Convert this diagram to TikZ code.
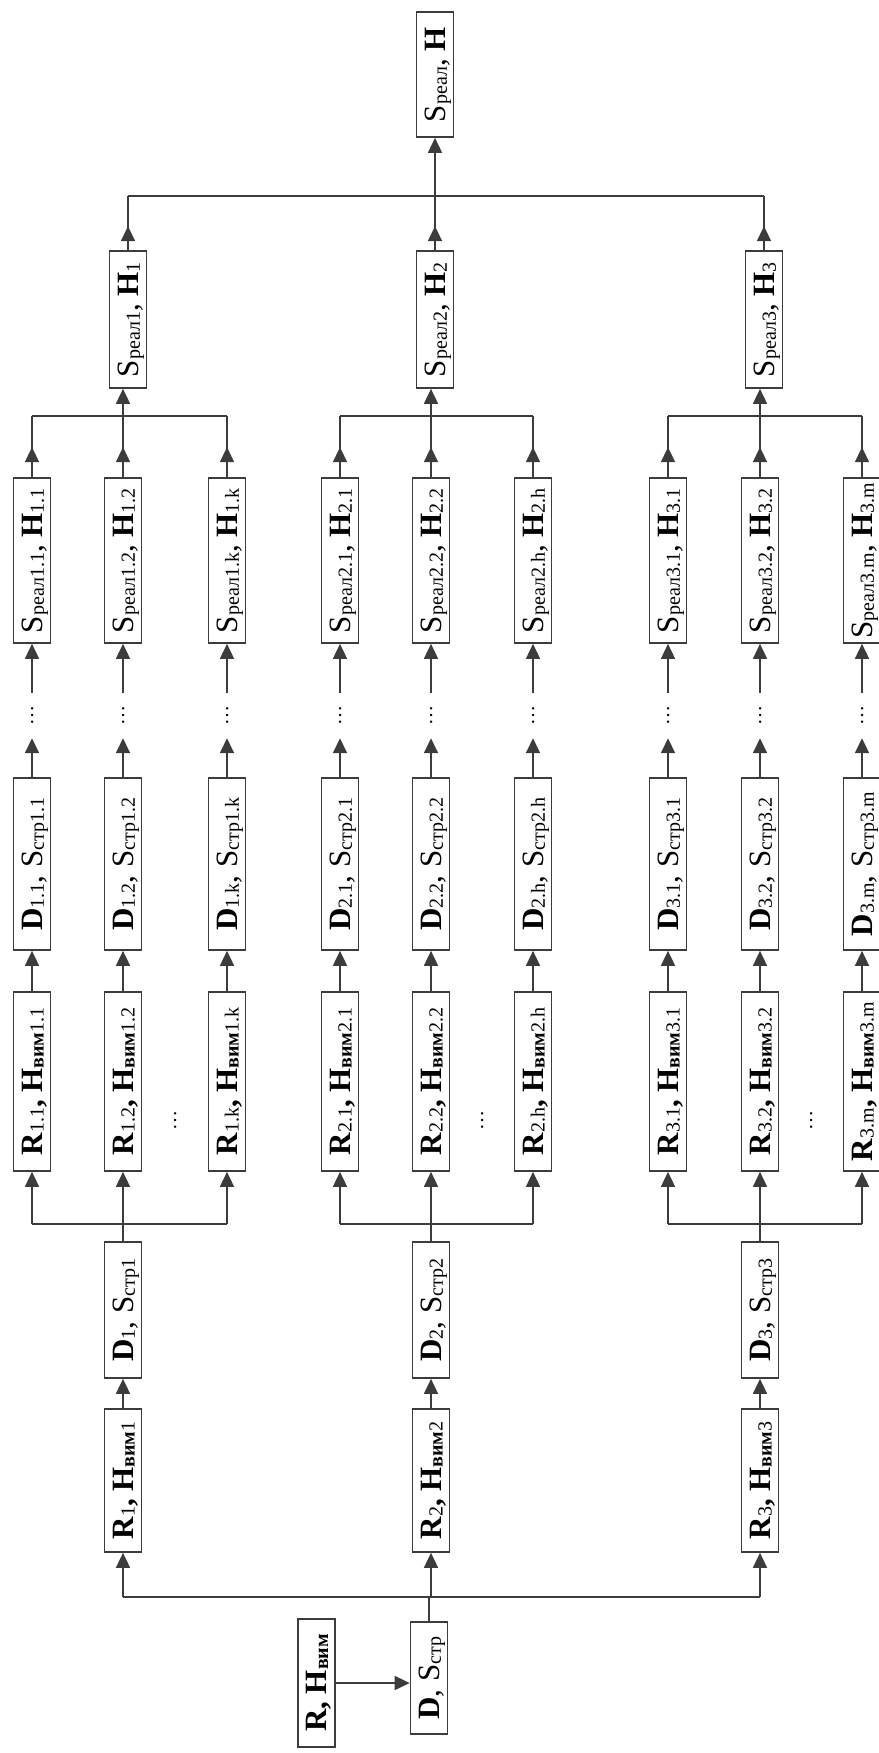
\documentclass[tikz,border=0pt]{standalone}
\usepackage{fontspec}
\setmainfont{Liberation Serif}
\usetikzlibrary{arrows.meta,decorations.markings}
\definecolor{lncol}{HTML}{3C3C3C}
\newcommand{\B}[1]{\textbf{#1}}
\newcommand{\sbr}[1]{\raisebox{-1.5pt}{\fontsize{20}{24}\selectfont\mdseries #1}}
\newcommand{\sbb}[1]{\raisebox{-1.5pt}{\fontsize{20}{24}\selectfont\bfseries #1}}
\newcommand{\rt}[1]{\rotatebox{90}{\raisebox{0pt}[\height][0pt]{#1}}}
\begin{document}
\begin{tikzpicture}[x=1pt,y=-1pt,
  box/.style={draw=lncol, line width=1.7pt, fill=white, inner sep=0pt, minimum width=37pt, font=\fontsize{31}{36}\selectfont},
  wire/.style={color=lncol, line width=1.7pt},
  arr/.style={wire, -{Triangle[length=15pt,width=14pt]}},
  midarr/.style={postaction={decorate}, decoration={markings, mark=at position #1 with {\arrow{Triangle[length=15pt,width=14pt]}}}},
  midarr/.default=30pt,
  dotsn/.style={inner sep=0pt, minimum width=10pt, minimum height=45pt, font=\fontsize{20}{24}\selectfont}]
\fill[white] (0,0) rectangle (878,1753);
\useasboundingbox (0,0) rectangle (878,1753);

\foreach \g/\xm/\xs/\xa/\xc/\la/\lb/\lc in {1/123/128/32/227/1.1/1.2/1.k, 2/431/435/340/533/2.1/2.2/2.h, 3/760/764/668/862/3.1/3.2/3.m}{
  \node[box, minimum height=143pt] (R\g) at (\xm,1480.5) {\rt{\B{R}\sbr{\g}\B{, H}\sbb{вим}\sbr{\g}}};
  \node[box, minimum height=136pt] (D\g) at (\xm,1310) {\rt{\B{D}\sbr{\g}, S\sbr{стр\g}}};
  \node[box, minimum height=137pt] (SR\g) at (\xs,319.5) {\rt{S\sbr{реал\g}, \B{H}\sbr{\g}}};
  \coordinate (bb\g) at (\xm,1597);
  \coordinate (tb\g) at (\xs,196);
  \draw[arr] (R\g) -- (D\g);
  \draw[arr] (bb\g) -- (R\g);
  \draw[wire, midarr=24pt] (SR\g) -- (tb\g);
  \foreach \cc/\x/\l in {a/\xa/\la, b/\xm/\lb, c/\xc/\lc}{
    \node[box, minimum height=179pt] (r\g\cc) at (\x,1081.5) {\rt{\B{R}\sbr{\l}\B{, H}\sbb{вим}\sbr{\l}}};
    \node[box, minimum height=172pt] (d\g\cc) at (\x,864) {\rt{\B{D}\sbr{\l}, S\sbr{стр\l}}};
    \node[dotsn] (t\g\cc) at (\x,715.5) {\rt{…}};
    \node[box, minimum height=165pt] (s\g\cc) at (\x,560.5) {\rt{S\sbr{реал\l}, \B{H}\sbr{\l}}};
    \coordinate (lb\g\cc) at (\x,1224);
    \coordinate (ub\g\cc) at (\x,416);
    \draw[arr] (lb\g\cc) -- (r\g\cc);
    \draw[arr] (r\g\cc) -- (d\g\cc);
    \draw[arr] (d\g\cc) -- (t\g\cc);
    \draw[arr] (t\g\cc) -- (s\g\cc);
    \draw[wire, midarr] (s\g\cc) -- (ub\g\cc);
  }
  \draw[wire] (lb\g a) -- (lb\g c);
  \draw[wire] (D\g) -- (lb\g b);
  \draw[wire] (ub\g a) -- (ub\g c);
  \draw[arr] (ub\g b) -- (ub\g b |- SR\g.south);
  \node[dotsn] (dr\g) at ({(\xm+\xc)/2},1120) {\rt{…}};
}

\node[box, minimum height=125pt] (SH) at (435,74.5) {\rt{S\sbr{реал}, \B{H}}};
\draw[arr] (tb2) -- (SH);
\draw[wire] (tb1) -- (tb3);

\node[box, minimum height=112pt] (DS) at (429,1678) {\rt{\B{D}, S\sbr{стр}}};
\node[box, minimum height=128pt] (RH) at (316.5,1683) {\rt{\B{R, H}\sbb{вим}}};
\draw[arr] (RH.east) -- (RH.east -| DS.west);
\draw[wire] (DS) -- (DS.north |- bb2);
\draw[wire] (bb1) -- (bb3);
\end{tikzpicture}
\end{document}
